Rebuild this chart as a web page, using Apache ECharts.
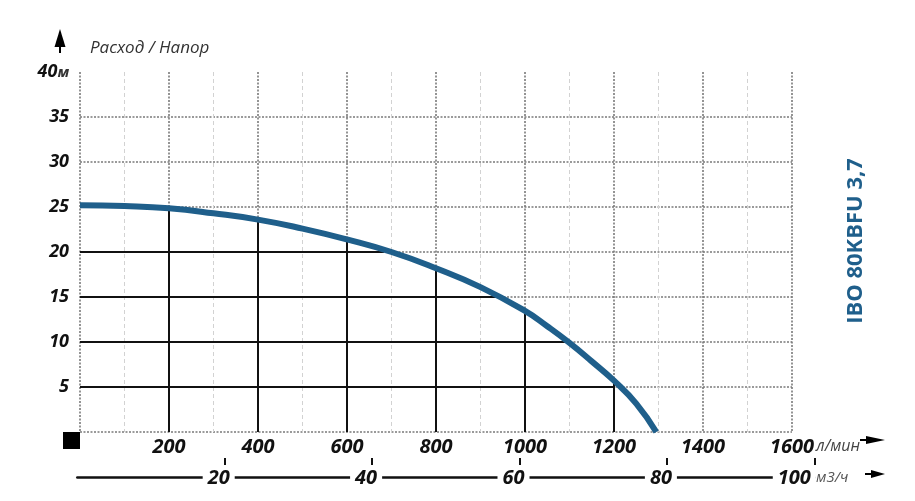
<!DOCTYPE html>
<html>
<head>
<meta charset="utf-8">
<script src="https://cdn.jsdelivr.net/npm/echarts@6/dist/echarts.min.js"></script>
<style>
html,body{margin:0;padding:0;background:#fff;}
#chart{width:915px;height:501px;}
</style>
</head>
<body>
<div id="chart"></div>
<script>
// ---- data ----
const flow = [0, 100, 200, 300, 400, 500, 600, 700, 800, 900, 1000, 1050, 1100, 1150, 1200, 1250, 1295]; // л/мин
const head = [25.2, 25.1, 24.85, 24.3, 23.6, 22.6, 21.4, 20.0, 18.2, 16.1, 13.45, 11.75, 9.9, 7.85, 5.7, 3.15, 0]; // м
const dropFlows = [200, 400, 600, 800, 1000, 1200];      // vertical reference lines
const dropHeads = [20, 15, 10, 5];                        // horizontal reference lines
const dropHeadEnds = [683, 938, 1097, 1200];              // flow where each horizontal line ends
const flowTicks = [200, 400, 600, 800, 1000, 1200, 1400, 1600];
const headTicks = [5, 10, 15, 20, 25, 30, 35, 40];
const m3hTicks = [20, 40, 60, 80, 100];
const title = 'IBO 80KBFU 3,7';
const yTitle = 'Расход / Напор';
const unitFlow = 'л/мин';
const unitM3h = 'м3/ч';
const unitHead = 'м';

const BLUE = '#1f5f8b';
const FONT = '"Open Sans", "DejaVu Sans", sans-serif';

const curve = flow.map((f, i) => [f, head[i]]);
const dropLines = [];
dropFlows.forEach(f => {
  const h = head[flow.indexOf(f)];
  dropLines.push({ coords: [[f, h], [f, 0]] });
});
dropHeads.forEach((h, i) => {
  dropLines.push({ coords: [[0, h], [dropHeadEnds[i], h]] });
});

const chart = echarts.init(document.getElementById('chart'), null, { renderer: 'canvas' });

const option = {
  animation: false,
  backgroundColor: '#fff',
  grid: [
    { left: 80, top: 72, width: 712, height: 360 },
    { left: 77.3, top: 458, width: 737, height: 7 }
  ],
  xAxis: [
    {
      type: 'value', gridIndex: 0, min: 0, max: 1600, interval: 200,
      axisLine: { show: false }, axisTick: { show: false },
      minorTick: { show: false, splitNumber: 2 },
      minorSplitLine: { show: true, lineStyle: { color: '#d2d2d2', width: 1, type: [4, 3] } },
      splitLine: { show: true, showMinLine: true, showMaxLine: true, lineStyle: { color: '#7a7a7a', width: 1.6, type: [2, 1.5] } },
      axisLabel: {
        margin: 5, fontFamily: FONT, fontSize: 20, fontWeight: 'bold', fontStyle: 'italic', color: '#111',
        formatter: v => (flowTicks.indexOf(v) >= 0 ? String(v) : '')
      }
    },
    {
      type: 'value', gridIndex: 1, min: 0, max: 100, interval: 20, position: 'bottom', offset: 12,
      axisLine: { show: true, onZero: false, lineStyle: { color: '#111', width: 2.5 } },
      axisTick: { show: false },
      splitLine: { show: true, showMinLine: false, showMaxLine: true, lineStyle: { color: '#111', width: 2, type: 'solid' } },
      axisLabel: {
        margin: 1, verticalAlign: 'middle', fontFamily: FONT, fontSize: 20, fontWeight: 'bold', fontStyle: 'italic', color: '#111',
        formatter: v => {
          if (m3hTicks.indexOf(v) < 0) return '';
          return v === 100 ? '{a|' + v + '}{t| }' : '{a|' + v + '}{s| }';
        },
        rich: {
          a: { backgroundColor: '#fff', padding: [2, 5, 2, 5], fontFamily: FONT, fontSize: 20, fontWeight: 'bold', fontStyle: 'italic', color: '#111' },
          s: { width: 12, fontSize: 20 },
          t: { width: 40, fontSize: 20 }
        }
      }
    }
  ],
  yAxis: [
    {
      type: 'value', gridIndex: 0, min: 0, max: 40, interval: 5,
      axisLine: { show: false }, axisTick: { show: false },
      splitLine: { show: true, showMinLine: true, showMaxLine: false, lineStyle: { color: '#7a7a7a', width: 1.6, type: [2, 1.5] } },
      axisLabel: {
        margin: 11, fontFamily: FONT, fontSize: 18, fontWeight: 'bold', fontStyle: 'italic', color: '#111',
        formatter: v => {
          if (headTicks.indexOf(v) < 0) return '';
          return v === 40 ? '{n|' + v + '}{u|' + unitHead + '}' : '{n|' + v + '}';
        },
        rich: {
          n: { fontFamily: FONT, fontSize: 18, fontWeight: 'bold', fontStyle: 'italic', color: '#111' },
          u: { fontFamily: FONT, fontSize: 15, fontStyle: 'italic', color: '#333', padding: [2, 0, 0, 0] }
        }
      }
    },
    { type: 'value', gridIndex: 1, show: false, min: 0, max: 1 }
  ],
  series: [
    {
      type: 'lines', coordinateSystem: 'cartesian2d', xAxisIndex: 0, yAxisIndex: 0,
      polyline: false, silent: true, z: 2,
      lineStyle: { color: '#111', width: 2, opacity: 1, curveness: 0 },
      data: dropLines
    },
    {
      type: 'line', xAxisIndex: 0, yAxisIndex: 0, data: curve,
      smooth: 0.5, symbol: 'none', z: 3, silent: true,
      lineStyle: { color: BLUE, width: 6, cap: 'butt' }
    }
  ],
  graphic: [
    { type: 'polygon', shape: { points: [[60, 29], [65.5, 47], [54.5, 47]] }, style: { fill: '#000' } },
    { type: 'rect', shape: { x: 59, y: 45, width: 2, height: 8 }, style: { fill: '#000' } },
    { type: 'text', x: 90, y: 48, style: { text: yTitle, font: 'italic 17px ' + FONT, fill: '#333', align: 'left', verticalAlign: 'middle' } },
    { type: 'rect', shape: { x: 63, y: 432, width: 17, height: 17 }, style: { fill: '#000' } },
    { type: 'text', x: 816, y: 446, style: { text: unitFlow, font: 'italic 16px ' + FONT, fill: '#444', align: 'left', verticalAlign: 'middle' } },
    { type: 'rect', shape: { x: 860, y: 439, width: 8, height: 2 }, style: { fill: '#000' } },
    { type: 'polygon', shape: { points: [[866, 436], [885, 440], [866, 444]] }, style: { fill: '#000' } },
    { type: 'text', x: 816, y: 478, z: 100, style: { text: unitM3h, font: 'italic 15px ' + FONT, fill: '#555', align: 'left', verticalAlign: 'middle' } },
    { type: 'rect', shape: { x: 865, y: 473, width: 8, height: 2 }, style: { fill: '#000' } },
    { type: 'polygon', shape: { points: [[871, 470], [885, 474], [871, 478]] }, style: { fill: '#000' } },
    { type: 'text', x: 856, y: 241, rotation: Math.PI / 2, style: { text: title, font: 'bold 22px ' + FONT, fill: BLUE, align: 'center', verticalAlign: 'middle' } }
  ]
};
chart.setOption(option);
</script>
</body>
</html>
